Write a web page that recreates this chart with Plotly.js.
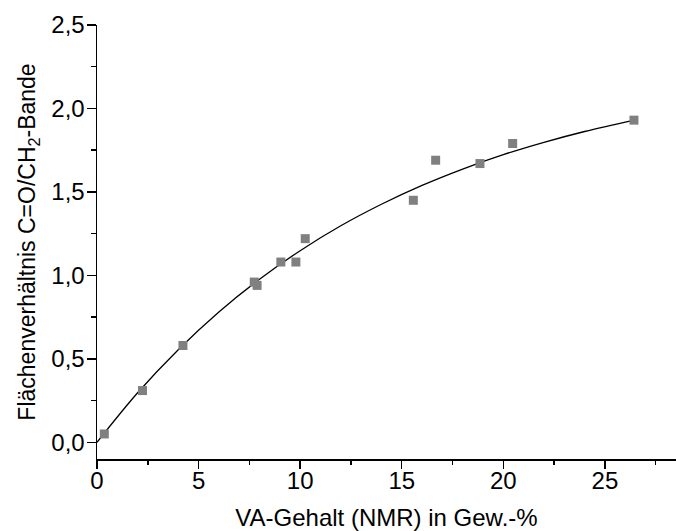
<!DOCTYPE html>
<html>
<head>
<meta charset="utf-8">
<script src="https://cdn.plot.ly/plotly-3.0.1.min.js"></script>
<style>html,body{margin:0;padding:0;background:#fff;}#chart{width:676px;height:531px;}</style>
</head>
<body>
<div id="chart"></div>
<script>
// Measured points: VA content (NMR, wt-%) vs area ratio C=O/CH2 band
var vaContent = [0.36, 2.24, 4.23, 7.74, 7.88, 9.05, 9.79, 10.25, 15.57, 16.67, 18.85, 20.46, 26.43];
var areaRatio = [0.05, 0.31, 0.58, 0.96, 0.94, 1.08, 1.08, 1.22, 1.45, 1.69, 1.67, 1.79, 1.93];

// Fit curve
var fitX = [0, 2, 4, 6, 8, 10, 12, 14, 16, 18, 20, 22, 24, 26.4];
var fitY = [0, 0.297, 0.555, 0.781, 0.977, 1.148, 1.297, 1.426, 1.539, 1.637, 1.723, 1.797, 1.862, 1.929];

var xTitle = 'VA-Gehalt (NMR) in Gew.-%';
var yTitle = 'Flächenverhältnis C=O/CH<sub>2</sub>-Bande';

var traces = [
  {x: fitX, y: fitY, mode: 'lines', line: {color: '#000', width: 1.3, shape: 'spline', smoothing: 1}, hoverinfo: 'skip'},
  {x: vaContent, y: areaRatio, mode: 'markers', marker: {symbol: 'square', size: 9, color: '#808080'}}
];

var font = 'Arial, "Liberation Sans", sans-serif';
var layout = {
  width: 676, height: 531,
  margin: {l: 97, r: 0, t: 25, b: 72},
  paper_bgcolor: '#fff', plot_bgcolor: '#fff',
  showlegend: false,
  separators: ',.',
  font: {family: font, color: '#000'},
  xaxis: {
    range: [0, 28.5], dtick: 5, tick0: 0,
    showgrid: false, zeroline: false,
    showline: true, linecolor: '#000', linewidth: 1.5,
    ticks: 'outside', ticklen: 8, tickwidth: 1.5, tickcolor: '#000',
    tickfont: {size: 24, family: font}, ticklabelstandoff: -8,
    minor: {dtick: 2.5, ticks: 'outside', ticklen: 4, tickwidth: 1.5, tickcolor: '#000', showgrid: false},
    title: {text: xTitle, font: {size: 24, family: font}, standoff: 16}
  },
  yaxis: {
    range: [-0.1, 2.5], dtick: 0.5, tick0: 0, tickformat: '.1f',
    showgrid: false, zeroline: false,
    showline: true, linecolor: '#000', linewidth: 1.5,
    ticks: 'outside', ticklen: 9, tickwidth: 1.5, tickcolor: '#000',
    tickfont: {size: 24, family: font}, ticklabelstandoff: -3,
    minor: {dtick: 0.25, ticks: 'outside', ticklen: 5, tickwidth: 1.5, tickcolor: '#000', showgrid: false},
    title: {text: yTitle, font: {size: 23, family: font}, standoff: 9}
  }
};

Plotly.newPlot('chart', traces, layout, {displayModeBar: false, staticPlot: true});
</script>
</body>
</html>
